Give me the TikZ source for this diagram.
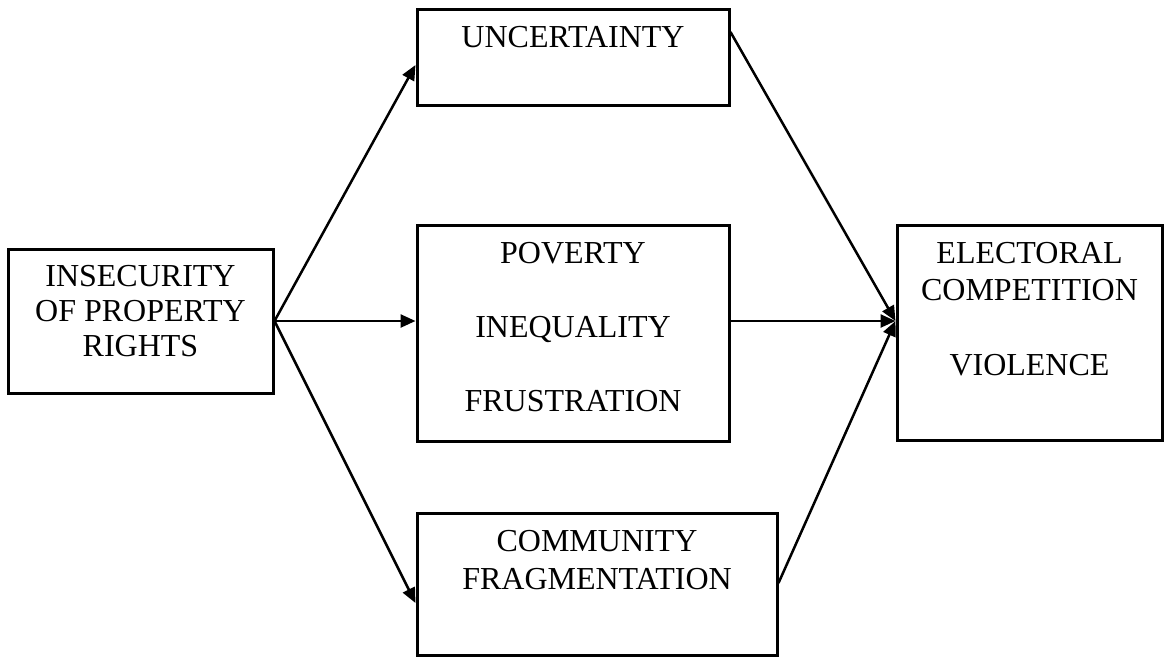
\documentclass[tikz,border=0pt]{standalone}
\usepackage{fontspec}
\setmainfont{Liberation Serif}
\usetikzlibrary{arrows.meta,calc}
\begin{document}
\begin{tikzpicture}[x=1pt,y=-1pt,
    box/.style={draw,line width=3pt,inner sep=0pt},
    txt/.style={inner sep=0pt,align=center,anchor=base,font=\fontsize{32}{37}\selectfont},
    link/.style={line width=2.5pt,-{Triangle[length=15pt,width=13pt]}}]
    % Fix the page to the size of the reference
    \useasboundingbox (0,0) rectangle (1168,657);
    % Draw the five boxes
    \node[box,minimum width=265pt,minimum height=144pt] (ins) at (140.5,321) {};
    \node[box,minimum width=312pt,minimum height=96pt] (unc) at (573,57) {};
    \node[box,minimum width=312pt,minimum height=216pt] (pov) at (573,333) {};
    \node[box,minimum width=360pt,minimum height=142pt] (com) at (597,584) {};
    \node[box,minimum width=265pt,minimum height=215pt] (ele) at (1029.5,332.5) {};
    % Put the texts near the top of each box (base = last line)
    \node[txt] (insT) at ([yshift=-109pt]ins.north) {INSECURITY\\[-2pt]OF PROPERTY\\[-2pt]RIGHTS};
    \node[txt] (uncT) at ([yshift=-40pt]unc.north) {UNCERTAINTY};
    \node[txt] (povT) at ([yshift=-188pt]pov.north) {POVERTY\\[37pt]INEQUALITY\\[37pt]FRUSTRATION};
    \node[txt] (comT) at ([yshift=-78pt]com.north) {COMMUNITY\\[1pt]FRAGMENTATION};
    \node[txt] (eleT) at ([yshift=-151.5pt]ele.north) {ELECTORAL\\COMPETITION\\[38pt]VIOLENCE};
    % The point where the three arrows meet on the right box
    \coordinate (hub) at (ins.east -| ele.west);
    % Arrows out of the left box
    \draw[link] (ins.east) -- ([yshift=-8pt]unc.west);
    \draw[link] (ins.east) -- (ins.east -| pov.west);
    \draw[link] (ins.east) -- ([yshift=-19pt]com.west);
    % Arrows into the right box
    \draw[link] ([yshift=25pt]unc.east) -- (hub);
    \draw[link] (pov.east |- hub) -- (hub);
    \draw[link] ([yshift=1pt]com.east) -- (hub);
\end{tikzpicture}
\end{document}
